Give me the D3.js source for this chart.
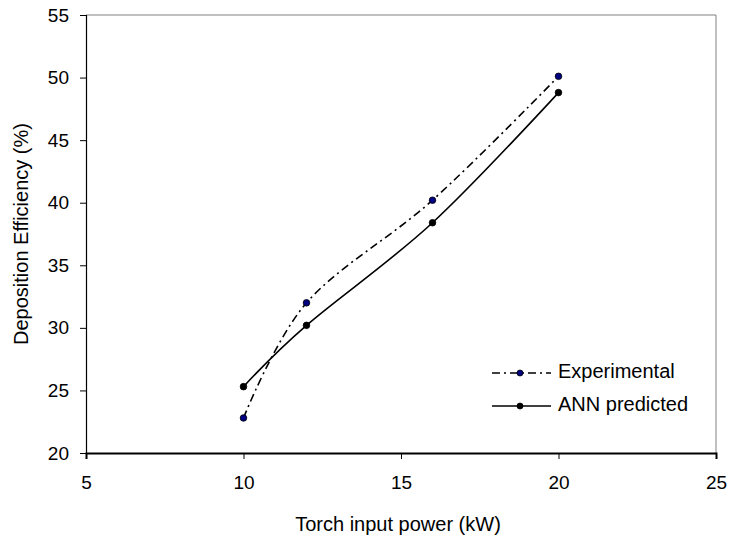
<!DOCTYPE html>
<html><head><meta charset="utf-8">
<script src="https://cdn.jsdelivr.net/npm/d3@7"></script>
<style>body{margin:0;background:#fff;} svg{display:block;font-family:"Liberation Sans",Arial,sans-serif;}</style>
</head><body>
<div id="chart"></div>
<script>
const power = [10, 12, 16, 20];
const experimental = [22.8, 32.0, 40.2, 50.1];
const annPredicted = [25.3, 30.2, 38.4, 48.8];
const xTicks = [5, 10, 15, 20, 25];
const yTicks = [20, 25, 30, 35, 40, 45, 50, 55];
const seriesNames = ["Experimental", "ANN predicted"];

const W = 731, H = 542;
const m = {left: 86, right: 15, top: 15, bottom: 89};
const svg = d3.select("#chart").append("svg").attr("width", W).attr("height", H);

const x = d3.scaleLinear().domain([5, 25]).range([m.left, W - m.right]);
const y = d3.scaleLinear().domain([20, 55]).range([H - m.bottom, m.top]);
const FONT = "Liberation Sans, Arial, sans-serif";

// plot area border (grey top/right)
svg.append("line").attr("x1", x(5)).attr("x2", x(25)).attr("y1", y(55)).attr("y2", y(55)).attr("stroke", "#808080").attr("stroke-width", 1);
svg.append("line").attr("x1", x(25)).attr("x2", x(25)).attr("y1", y(55)).attr("y2", y(20)).attr("stroke", "#808080").attr("stroke-width", 1);

// axes
const xAxis = svg.append("g").attr("transform", `translate(0,${y(20)})`)
  .call(d3.axisBottom(x).tickValues(xTicks).tickSize(6).tickPadding(17).tickFormat(d3.format("d")));
xAxis.select(".domain").attr("stroke", "#000").attr("stroke-width", 2);
xAxis.selectAll(".tick line").attr("stroke", "#000");
xAxis.selectAll("text").attr("font-size", 19).attr("fill", "#000").attr("font-family", FONT);

const yAxis = svg.append("g").attr("transform", `translate(${x(5)},0)`)
  .call(d3.axisLeft(y).tickValues(yTicks).tickSize(6).tickPadding(11).tickFormat(d3.format("d")));
yAxis.select(".domain").attr("stroke", "#000").attr("stroke-width", 1.2);
yAxis.selectAll(".tick line").attr("stroke", "#000");
yAxis.selectAll("text").attr("font-size", 19).attr("fill", "#000").attr("font-family", FONT);

// axis titles
svg.append("text").attr("x", (x(5) + x(25)) / 2 - 3).attr("y", 531).attr("text-anchor", "middle")
  .attr("font-size", 20).text("Torch input power (kW)");
svg.append("text").attr("transform", `translate(28,${(y(20) + y(55)) / 2}) rotate(-90)`).attr("text-anchor", "middle")
  .attr("font-size", 20).text("Deposition Efficiency (%)");

const line = d3.line().x(d => x(d[0])).y(d => y(d[1])).curve(d3.curveCardinal.tension(0));

const series = [
  {name: seriesNames[0], vals: experimental, dash: "8,4,2,4", fill: "#000080"},
  {name: seriesNames[1], vals: annPredicted, dash: null, fill: "#000"}
];

series.forEach(s => {
  const pts = power.map((p, i) => [p, s.vals[i]]);
  svg.append("path").attr("d", line(pts)).attr("fill", "none").attr("stroke", "#000")
    .attr("stroke-width", 1.6).attr("stroke-dasharray", s.dash);
  svg.selectAll(null).data(pts).enter().append("circle")
    .attr("cx", d => x(d[0])).attr("cy", d => y(d[1])).attr("r", 3.3)
    .attr("fill", s.fill).attr("stroke", "#000").attr("stroke-width", 0.8);
});

// legend
const lg = svg.append("g");
series.forEach((s, i) => {
  const ly = 373 + i * 33;
  lg.append("line").attr("x1", 492).attr("x2", 551).attr("y1", ly).attr("y2", ly)
    .attr("stroke", "#000").attr("stroke-width", 1.6).attr("stroke-dasharray", s.dash);
  lg.append("circle").attr("cx", 520).attr("cy", ly).attr("r", 3).attr("fill", s.fill).attr("stroke", "#000").attr("stroke-width", 0.8);
  lg.append("text").attr("x", 558).attr("y", ly + 5).attr("font-size", 20).text(s.name);
});
</script>
</body></html>
